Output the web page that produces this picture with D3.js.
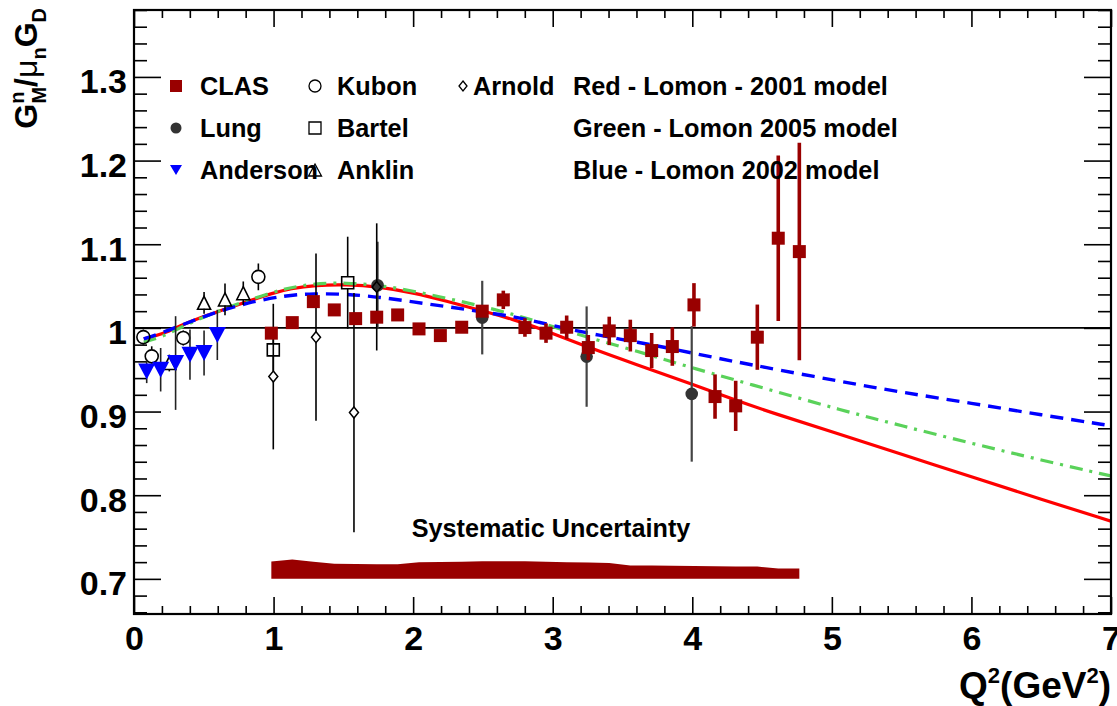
<!DOCTYPE html>
<html>
<head>
<meta charset="utf-8">
<script src="https://cdn.jsdelivr.net/npm/d3@7"></script>
<style>
  body { margin: 0; background: #fff; }
  svg text { font-family: "Liberation Sans", Arial, Helvetica, sans-serif; font-weight: bold; fill: #000; }
</style>
</head>
<body>
<svg id="chart" width="1117" height="706"></svg>
<script>
// ---- CLAS measurement (G_M^n / mu_n G_D) ----
const clasQ2    = [0.984, 1.134, 1.285, 1.435, 1.588, 1.739, 1.889, 2.042, 2.195, 2.348, 2.495, 2.646, 2.801,
                   2.952, 3.100, 3.255, 3.405, 3.556, 3.709, 3.857, 4.012, 4.163, 4.311, 4.466, 4.616, 4.767];
const clasRatio = [0.9937, 1.0063, 1.0314, 1.0215, 1.0111, 1.0128, 1.0155, 0.9988, 0.9908, 1.0008, 1.0200, 1.0335, 1.0004,
                   0.9937, 1.0008, 0.9765, 0.9964, 0.9908, 0.9729, 0.9777, 1.0275, 0.9179, 0.9068, 0.9889, 1.1072, 1.0912];
const clasErr   = [0.004, 0.004, 0.004, 0.004, 0.004, 0.004, 0.004, 0.005, 0.005, 0.005, 0.006, 0.011, 0.011,
                   0.0116, 0.014, 0.015, 0.017, 0.019, 0.021, 0.023, 0.026, 0.0265, 0.030, 0.039, 0.099, 0.130];
const clasSys   = [0.0207, 0.0231, 0.0205, 0.0180, 0.0177, 0.0176, 0.0176, 0.0198, 0.0202, 0.0205, 0.0210, 0.0211, 0.0210,
                   0.0205, 0.0200, 0.0196, 0.0190, 0.0160, 0.0160, 0.0157, 0.0155, 0.0152, 0.0148, 0.0147, 0.0123, 0.0123];

// ---- world data ----
const lungQ2 = [1.745, 2.495, 3.243, 3.996];
const lungRatio = [1.051, 1.0123, 0.9657, 0.9211];
const lungErr = [0.052, 0.044, 0.060, 0.081];

const kubonQ2 = [0.067, 0.127, 0.353, 0.891];
const kubonRatio = [0.989, 0.966, 0.988, 1.061];
const kubonErr = [0.009, 0.012, 0.009, 0.016];

const bartelQ2 = [0.998, 1.531];
const bartelRatio = [0.9737, 1.054];
const bartelErr = [0.025, 0.055];

const arnoldQ2 = [0.998, 1.304, 1.576, 1.739];
const arnoldRatio = [0.9418, 0.9889, 0.8988, 1.049];
const arnoldErr = [0.087, 0.100, 0.143, 0.076];

const anklinQ2 = [0.253, 0.502, 0.652, 0.783];
const anklinRatio = [0.958, 1.030, 1.034, 1.0415];
const anklinErr = [0.010, 0.013, 0.019, 0.014];

const andersonQ2 = [0.091, 0.191, 0.298, 0.401, 0.502, 0.597];
const andersonRatio = [0.948, 0.950, 0.958, 0.968, 0.970, 0.9916];
const andersonErr = [0.014, 0.026, 0.056, 0.030, 0.027, 0.030];

// ---- Lomon model curves ----
const lomon2001Q2 = [0.07, 0.2, 0.35, 0.5, 0.65, 0.8, 1.0, 1.12, 1.3, 1.52, 1.76, 2.0, 2.24, 2.48, 2.72, 2.9,
                     3.25, 3.6, 4.0, 4.3, 4.6, 5.0, 5.5, 6.0, 6.5, 7.0];
const lomon2001 = [0.987, 0.992, 1.004, 1.014, 1.022, 1.031, 1.042, 1.047, 1.051, 1.052, 1.049, 1.042, 1.032, 1.021, 1.010, 1.000,
                   0.977, 0.956, 0.933, 0.914, 0.897, 0.876, 0.849, 0.822, 0.795, 0.769];

const lomon2005Q2 = [0.07, 0.2, 0.35, 0.5, 0.65, 0.8, 1.0, 1.12, 1.285, 1.524, 1.763, 2.0, 2.24, 2.48, 2.72, 2.885,
                     3.12, 3.5, 3.77, 3.96, 4.557, 5.06, 5.5, 6.0, 6.5, 7.0];
const lomon2005 = [0.983, 0.989, 1.002, 1.013, 1.023, 1.032, 1.043, 1.048, 1.053, 1.054, 1.051, 1.044, 1.0355, 1.0265, 1.016, 1.008,
                   0.995, 0.977, 0.964, 0.954, 0.926, 0.902, 0.883, 0.862, 0.842, 0.823];

const lomon2002Q2 = [0.07, 0.2, 0.35, 0.57, 0.81, 1.09, 1.285, 1.524, 1.763, 2.0, 2.24, 2.48, 2.72, 2.885,
                     3.12, 3.5, 3.77, 4.2, 4.485, 5.06, 5.5, 6.0, 6.5, 7.0];
const lomon2002 = [0.987, 0.994, 1.004, 1.018, 1.030, 1.039, 1.041, 1.0406, 1.0367, 1.031, 1.0255, 1.0195, 1.0135, 1.0076,
                   0.998, 0.986, 0.978, 0.963, 0.954, 0.936, 0.923, 0.910, 0.896, 0.883];

// ---- axis ticks ----
const xMajorTicks = [0, 1, 2, 3, 4, 5, 6, 7];
const yMajorTicks = [0.7, 0.8, 0.9, 1.0, 1.1, 1.2, 1.3];
const yTickLabels = ["0.7", "0.8", "0.9", "1", "1.1", "1.2", "1.3"];

const zip = (xs, ys, es) => xs.map((q, i) => ({ q: q, v: ys[i], e: es ? es[i] : 0 }));

const svg = d3.select("#chart");
const frame = { left: 134, right: 1111, top: 10, bottom: 614 };

const x = d3.scaleLinear().domain([0, 7]).range([frame.left, frame.right]);
const y = d3.scaleLinear().domain([0.658, 1.38]).range([frame.bottom, frame.top]);

svg.append("rect").attr("width", 1117).attr("height", 706).attr("fill", "#fff");

svg.append("clipPath").attr("id", "plotclip").append("rect")
  .attr("x", frame.left).attr("y", frame.top)
  .attr("width", frame.right - frame.left).attr("height", frame.bottom - frame.top);

// ---- axes (ticks drawn inward) ----
const xMinor = d3.range(0, 7.0001, 0.2).map(v => Math.round(v * 10) / 10).filter(v => Math.abs(v - Math.round(v)) > 1e-6);
const yMinor = d3.range(0.66, 1.3801, 0.02).map(v => Math.round(v * 100) / 100)
  .filter(v => Math.abs(v * 10 - Math.round(v * 10)) > 1e-6);

function styleAxis(g) {
  g.select(".domain").remove();
  g.selectAll(".tick line").attr("stroke", "#000").attr("stroke-width", 1.6);
}

// bottom
svg.append("g").attr("transform", `translate(0,${frame.bottom})`)
  .call(d3.axisBottom(x).tickValues(xMajorTicks).tickSize(-17).tickFormat(d3.format("d")))
  .call(styleAxis)
  .call(g => g.selectAll("text").attr("y", 36).attr("dy", null)
    .style("font-size", "34px").style("font-family", "'Liberation Sans', Arial, sans-serif").style("font-weight", "bold"));
svg.append("g").attr("transform", `translate(0,${frame.bottom})`)
  .call(d3.axisBottom(x).tickValues(xMinor).tickSize(-8).tickFormat(""))
  .call(styleAxis);
// top
svg.append("g").attr("transform", `translate(0,${frame.top})`)
  .call(d3.axisTop(x).tickValues(xMajorTicks).tickSize(-17).tickFormat(""))
  .call(styleAxis);
svg.append("g").attr("transform", `translate(0,${frame.top})`)
  .call(d3.axisTop(x).tickValues(xMinor).tickSize(-8).tickFormat(""))
  .call(styleAxis);
// left
svg.append("g").attr("transform", `translate(${frame.left},0)`)
  .call(d3.axisLeft(y).tickValues(yMajorTicks).tickSize(-27).tickPadding(7)
    .tickFormat((d, i) => yTickLabels[i]))
  .call(styleAxis)
  .call(g => g.selectAll("text").attr("dy", "0.47em")
    .style("font-size", "34px").style("font-family", "'Liberation Sans', Arial, sans-serif").style("font-weight", "bold"));
svg.append("g").attr("transform", `translate(${frame.left},0)`)
  .call(d3.axisLeft(y).tickValues(yMinor).tickSize(-13).tickFormat(""))
  .call(styleAxis);
// right
svg.append("g").attr("transform", `translate(${frame.right},0)`)
  .call(d3.axisRight(y).tickValues(yMajorTicks).tickSize(-27).tickFormat(""))
  .call(styleAxis);
svg.append("g").attr("transform", `translate(${frame.right},0)`)
  .call(d3.axisRight(y).tickValues(yMinor).tickSize(-13).tickFormat(""))
  .call(styleAxis);

// unity reference line
svg.append("line")
  .attr("x1", x(0)).attr("x2", x(7)).attr("y1", y(1)).attr("y2", y(1))
  .attr("stroke", "#000").attr("stroke-width", 1.6);

// ---- systematic uncertainty band ----
const sysData = zip(clasQ2, clasSys);
svg.append("path").datum(sysData)
  .attr("d", d3.area().x(d => x(d.q)).y0(y(0.7)).y1(d => y(0.7 + d.v)))
  .attr("fill", "#990000");
svg.append("text").attr("x", 551).attr("y", 537).attr("text-anchor", "middle")
  .style("font-size", "25.2px").text("Systematic Uncertainty");

// ---- model curves ----
const curveG = svg.append("g").attr("clip-path", "url(#plotclip)");
const line = d3.line().x(d => x(d.q)).y(d => y(d.v)).curve(d3.curveBasis);
curveG.append("path").datum(zip(lomon2001Q2, lomon2001)).attr("d", line)
  .attr("fill", "none").attr("stroke", "#ff0000").attr("stroke-width", 3.2);
curveG.append("path").datum(zip(lomon2005Q2, lomon2005)).attr("d", line)
  .attr("fill", "none").attr("stroke", "#5ad25a").attr("stroke-width", 3.2)
  .attr("stroke-dasharray", "13,7,3,7");
curveG.append("path").datum(zip(lomon2002Q2, lomon2002)).attr("d", line)
  .attr("fill", "none").attr("stroke", "#0000ff").attr("stroke-width", 3.4)
  .attr("stroke-dasharray", "13,8");

// ---- marker shapes ----
const shapes = {
  square: s => ({ draw(c) { c.moveTo(-s / 2, -s / 2); c.lineTo(s / 2, -s / 2); c.lineTo(s / 2, s / 2); c.lineTo(-s / 2, s / 2); c.closePath(); } }),
  circle: r => ({ draw(c) { c.moveTo(r, 0); c.arc(0, 0, r, 0, 2 * Math.PI); } }),
  diamond: (w, h) => ({ draw(c) { c.moveTo(0, -h / 2); c.lineTo(w / 2, 0); c.lineTo(0, h / 2); c.lineTo(-w / 2, 0); c.closePath(); } }),
  triUp: (w, h) => ({ draw(c) { c.moveTo(0, -h / 2); c.lineTo(w / 2, h / 2); c.lineTo(-w / 2, h / 2); c.closePath(); } }),
  triDown: (w, h) => ({ draw(c) { c.moveTo(-w / 2, -h / 2); c.lineTo(w / 2, -h / 2); c.lineTo(0, h / 2); c.closePath(); } })
};
const symPath = type => d3.symbol().type(type)();

// error bars; gap leaves the interior of hollow markers clear
function errorBars(data, color, width, gap) {
  const g = svg.append("g").attr("stroke", color).attr("stroke-width", width);
  data.forEach(d => {
    const yc = y(d.v), yt = y(d.v + d.e), yb = y(d.v - d.e);
    if (gap > 0) {
      if (yc - gap > yt) g.append("line").attr("x1", x(d.q)).attr("x2", x(d.q)).attr("y1", yt).attr("y2", yc - gap);
      if (yc + gap < yb) g.append("line").attr("x1", x(d.q)).attr("x2", x(d.q)).attr("y1", yc + gap).attr("y2", yb);
    } else {
      g.append("line").attr("x1", x(d.q)).attr("x2", x(d.q)).attr("y1", yt).attr("y2", yb);
    }
  });
}
function markers(data, type, fill, stroke, sw) {
  svg.append("g").selectAll("path").data(data).join("path")
    .attr("transform", d => `translate(${x(d.q)},${y(d.v)})`)
    .attr("d", symPath(type))
    .attr("fill", fill).attr("stroke", stroke).attr("stroke-width", sw);
}

const lung = zip(lungQ2, lungRatio, lungErr);
const kubon = zip(kubonQ2, kubonRatio, kubonErr);
const bartel = zip(bartelQ2, bartelRatio, bartelErr);
const arnold = zip(arnoldQ2, arnoldRatio, arnoldErr);
const anklin = zip(anklinQ2, anklinRatio, anklinErr);
const anderson = zip(andersonQ2, andersonRatio, andersonErr);
const clas = zip(clasQ2, clasRatio, clasErr);

errorBars(lung, "#444", 2.2, 0);
markers(lung, shapes.circle(6.3), "#333", "none", 0);

errorBars(kubon, "#000", 1.6, 7);
markers(kubon, shapes.circle(6.5), "none", "#000", 1.6);

errorBars(bartel, "#000", 1.6, 6);
markers(bartel, shapes.square(12), "none", "#000", 1.6);

errorBars(arnold, "#000", 1.6, 5);
markers(arnold, shapes.diamond(9, 11), "none", "#000", 1.5);

errorBars(anklin, "#000", 1.6, 6);
markers(anklin, shapes.triUp(13, 13), "none", "#000", 1.6);

errorBars(anderson, "#222", 1.6, 0);
markers(anderson, shapes.triDown(17, 16), "#0000ff", "none", 0);

errorBars(clas, "#990000", 3.6, 0);
markers(clas, shapes.square(13), "#990000", "none", 0);

// ---- legend ----
const legendRows = [86, 128, 170];
const legend = svg.append("g");
const legText = (tx, ty, s) => legend.append("text").attr("x", tx).attr("y", ty + 8.5)
  .style("font-size", "25.3px").text(s);
const legMark = (mx, my, type, fill, stroke, sw) => legend.append("path")
  .attr("transform", `translate(${mx},${my})`).attr("d", symPath(type))
  .attr("fill", fill).attr("stroke", stroke).attr("stroke-width", sw);

legMark(176, legendRows[0], shapes.square(12), "#990000", "none", 0);
legText(200, legendRows[0], "CLAS");
legMark(176, legendRows[1], shapes.circle(5.5), "#333", "none", 0);
legText(200, legendRows[1], "Lung");
legText(200, legendRows[2], "Anderson");
legMark(176, legendRows[2], shapes.triDown(12, 10), "#0000ff", "none", 0);

legMark(315, legendRows[0], shapes.circle(6), "none", "#000", 1.3);
legText(337, legendRows[0], "Kubon");
legMark(315, legendRows[1], shapes.square(12), "none", "#000", 1.3);
legText(337, legendRows[1], "Bartel");
legMark(315, legendRows[2], shapes.triUp(13, 12), "none", "#000", 1.3);
legText(337, legendRows[2], "Anklin");

legMark(463, legendRows[0], shapes.diamond(8, 10), "none", "#000", 1.3);
legText(473, legendRows[0], "Arnold");

legText(573, legendRows[0], "Red - Lomon - 2001 model");
legText(573, legendRows[1], "Green - Lomon 2005 model");
legText(573, legendRows[2], "Blue - Lomon 2002 model");

// ---- frame ----
svg.append("rect")
  .attr("x", frame.left).attr("y", frame.top)
  .attr("width", frame.right - frame.left).attr("height", frame.bottom - frame.top)
  .attr("fill", "none").attr("stroke", "#000").attr("stroke-width", 2.2);

// ---- axis titles ----
const xt = svg.append("text").attr("x", 1111).attr("y", 698).attr("text-anchor", "end").style("font-size", "37px");
xt.append("tspan").text("Q");
xt.append("tspan").text("2").style("font-size", "22px").attr("dy", -15);
xt.append("tspan").text("(GeV").attr("dy", 15);
xt.append("tspan").text("2").style("font-size", "22px").attr("dy", -15);
xt.append("tspan").text(")").attr("dy", 15);

const yt = svg.append("text").attr("transform", "translate(37,8) rotate(-90)")
  .attr("text-anchor", "end").style("font-size", "32px");
yt.append("tspan").text("G");
yt.append("tspan").text("n").style("font-size", "20px").attr("dy", -13);
yt.append("tspan").text("M").style("font-size", "20px").attr("dx", -12).attr("dy", 22);
yt.append("tspan").text("/").attr("dy", -9);
yt.append("tspan").text("μ").style("font-weight", "normal");
yt.append("tspan").text("n").style("font-size", "20px").attr("dy", 9);
yt.append("tspan").text("G").attr("dy", -9);
yt.append("tspan").text("D").style("font-size", "20px").attr("dy", 9);
</script>
</body>
</html>
